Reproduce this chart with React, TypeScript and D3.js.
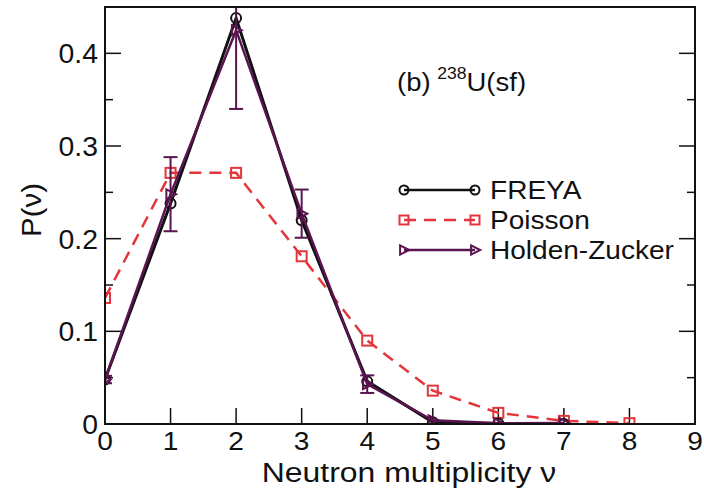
import React from "react";
import * as d3 from "d3";

const nu = [0, 1, 2, 3, 4, 5, 6, 7, 8];
const freya = [0.048, 0.238, 0.438, 0.22, 0.046, 0.002, 0.0005, 0.0];
const poisson = [0.136, 0.271, 0.271, 0.181, 0.09, 0.036, 0.012, 0.0034, 0.0009];
const holdenZucker = [0.048, 0.248, 0.425, 0.227, 0.043, 0.004, 0.0008, 0.001];
const hzError = [0.004, 0.04, 0.085, 0.026, 0.0095];
const xTicks = [0, 1, 2, 3, 4, 5, 6, 7, 8, 9];
const yTicks = [0, 0.1, 0.2, 0.3, 0.4];
const yMinorTicks = [0.05, 0.15, 0.25, 0.35];
const legendLabels = ["FREYA", "Poisson", "Holden-Zucker"];

const W = 704;
const H = 491;
const M = { left: 105, right: 695, top: 7, bottom: 424 };

const FONT = "Liberation Sans, Arial, sans-serif";
const BLACK = "#111";
const RED = "#e3353b";
const PURPLE = "#5a1450";

function T(props: {
  x: number;
  y: number;
  size: number;
  anchor?: string;
  sx?: number;
  rotate?: number;
  children: React.ReactNode;
}) {
  const { x, y, size, anchor = "start", sx = 1.1, rotate = 0, children } = props;
  return (
    <text
      transform={`translate(${x},${y}) rotate(${rotate}) scale(${sx},1)`}
      textAnchor={anchor}
      fontFamily={FONT}
      fontSize={size}
      fill={BLACK}
    >
      {children}
    </text>
  );
}

export default function App() {
  const x = d3.scaleLinear().domain([0, 9]).range([M.left, M.right]);
  const y = d3.scaleLinear().domain([0, 0.45]).range([M.bottom, M.top]);

  const line = d3
    .line<number>()
    .x((_, i) => x(nu[i]))
    .y((d) => y(d));

  const tri = (cx: number, cy: number, s: number) =>
    `M${cx - s * 0.6},${cy - s * 0.7}L${cx + s * 0.8},${cy}L${cx - s * 0.6},${cy + s * 0.7}Z`;

  const legendStyles = [
    { color: BLACK, dash: "", m: "c" },
    { color: RED, dash: "12,8", m: "s" },
    { color: PURPLE, dash: "", m: "t" },
  ];

  return (
    <svg width={W} height={H} style={{ display: "block", position: "absolute", left: 0, top: 0, background: "#fff" }}>
      <defs>
        <clipPath id="plot">
          <rect x={M.left} y={M.top} width={M.right - M.left} height={M.bottom - M.top} />
        </clipPath>
      </defs>
      <rect x={0} y={0} width={W} height={H} fill="#fff" />

      {/* ticks */}
      {xTicks.map((t) => (
        <line key={"xt" + t} x1={x(t)} x2={x(t)} y1={M.bottom} y2={M.bottom - 16} stroke={BLACK} strokeWidth={1.5} />
      ))}
      {yTicks.map((t) => (
        <g key={"yt" + t}>
          <line x1={M.left} x2={M.left + 16} y1={y(t)} y2={y(t)} stroke={BLACK} strokeWidth={1.5} />
          <line x1={M.right} x2={M.right - 16} y1={y(t)} y2={y(t)} stroke={BLACK} strokeWidth={1.5} />
        </g>
      ))}
      {yMinorTicks.map((t) => (
        <g key={"ym" + t}>
          <line x1={M.left} x2={M.left + 8} y1={y(t)} y2={y(t)} stroke={BLACK} strokeWidth={1.5} />
          <line x1={M.right} x2={M.right - 8} y1={y(t)} y2={y(t)} stroke={BLACK} strokeWidth={1.5} />
        </g>
      ))}

      <g clipPath="url(#plot)">
        {/* Poisson */}
        <path d={line(poisson) || ""} fill="none" stroke={RED} strokeWidth={2.5} strokeDasharray="12,8" />
        {poisson.map((v, i) => (
          <rect key={"p" + i} x={x(nu[i]) - 5} y={y(v) - 5} width={10} height={10} fill="none" stroke={RED} strokeWidth={2} />
        ))}
        {/* FREYA */}
        <path d={line(freya) || ""} fill="none" stroke={BLACK} strokeWidth={3} />
        {freya.map((v, i) => (
          <circle key={"f" + i} cx={x(nu[i])} cy={y(v)} r={5} fill="none" stroke={BLACK} strokeWidth={2} />
        ))}
        {/* Holden-Zucker */}
        <path d={line(holdenZucker) || ""} fill="none" stroke={PURPLE} strokeWidth={2.5} />
        {hzError.map((e, i) => {
          const cx = x(nu[i]);
          const v = holdenZucker[i];
          return (
            <g key={"e" + i} stroke={PURPLE} strokeWidth={2}>
              <line x1={cx} x2={cx} y1={y(v - e)} y2={y(v + e)} />
              <line x1={cx - 7} x2={cx + 7} y1={y(v - e)} y2={y(v - e)} />
              <line x1={cx - 7} x2={cx + 7} y1={y(v + e)} y2={y(v + e)} />
            </g>
          );
        })}
        {holdenZucker.map((v, i) => (
          <path key={"h" + i} d={tri(x(nu[i]), y(v), 7)} fill="none" stroke={PURPLE} strokeWidth={2} />
        ))}
      </g>

      {/* frame */}
      <rect x={M.left} y={M.top} width={M.right - M.left} height={M.bottom - M.top} fill="none" stroke={BLACK} strokeWidth={2} />

      {/* tick labels */}
      {xTicks.map((t) => (
        <T key={"xl" + t} x={x(t)} y={450} size={26} anchor="middle" sx={1.08}>
          {t}
        </T>
      ))}
      {yTicks.map((t) => (
        <T key={"yl" + t} x={98} y={y(t) + 10} size={27} anchor="end" sx={1.05}>
          {t === 0 ? "0" : d3.format(".1f")(t)}
        </T>
      ))}

      {/* axis titles */}
      <T x={(M.left + M.right) / 2 + 9} y={482} size={28} anchor="middle" sx={1.14}>
        Neutron multiplicity ν
      </T>
      <T x={41} y={210} size={28} anchor="middle" rotate={-90} sx={1.05}>
        P(ν)
      </T>

      {/* annotation */}
      <T x={397} y={91} size={25}>
        (b)
        <tspan dx={6} dy={-12} fontSize={16}>238</tspan>
        <tspan dy={12} fontSize={25}>U(sf)</tspan>
      </T>

      {/* legend */}
      {legendLabels.map((label, i) => {
        const d = legendStyles[i];
        const ly = 190 + i * 30;
        const x1 = 404;
        const x2 = 475;
        const marker = (cx: number) =>
          d.m === "c" ? (
            <circle cx={cx} cy={ly} r={4.5} fill="none" stroke={d.color} strokeWidth={2} />
          ) : d.m === "s" ? (
            <rect x={cx - 4.5} y={ly - 4.5} width={9} height={9} fill="none" stroke={d.color} strokeWidth={2} />
          ) : (
            <path d={tri(cx, ly, 6.5)} fill="none" stroke={d.color} strokeWidth={2} />
          );
        return (
          <g key={label}>
            <line x1={x1} x2={x2} y1={ly} y2={ly} stroke={d.color} strokeWidth={2.5} strokeDasharray={d.dash} />
            {marker(x1)}
            {marker(x2)}
            <T x={490} y={ly + 9} size={25.5} sx={1.1}>
              {label}
            </T>
          </g>
        );
      })}
    </svg>
  );
}
